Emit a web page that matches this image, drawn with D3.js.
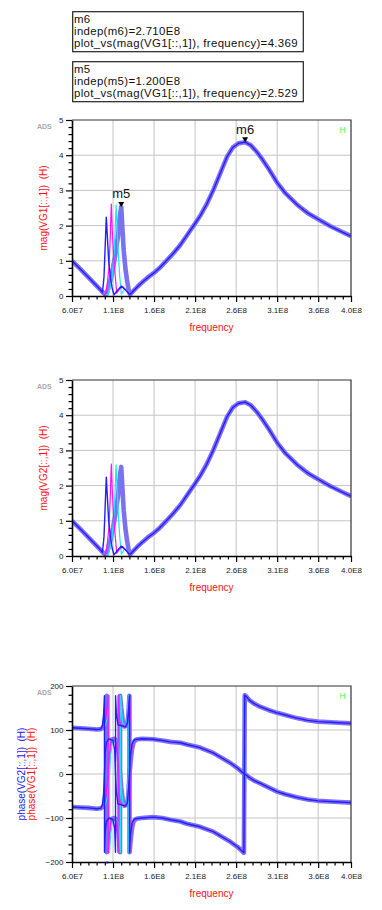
<!DOCTYPE html>
<html>
<head>
<meta charset="utf-8">
<script src="https://cdn.jsdelivr.net/npm/d3@7"></script>
<style>
body { margin: 0; background: #fff; }
svg { display: block; font-family: Arial, "Liberation Sans", sans-serif; }
</style>
</head>
<body>
<div id="chart"></div>
<script>
// frequency is kept in MHz, labels are typed as in ADS
let freqTicks = [60, 110, 160, 210, 260, 310, 360, 400];
let freqTickLabels = ["6.0E7", "1.1E8", "1.6E8", "2.1E8", "2.6E8", "3.1E8", "3.6E8", "4.0E8"];
let magTicks = [0, 1, 2, 3, 4, 5];
let phaseTicks = [-200, -100, 0, 100, 200];

// marker readouts
let markerBoxM6 = ["m6", "indep(m6)=2.710E8", "plot_vs(mag(VG1[::,1]), frequency)=4.369"];
let markerBoxM5 = ["m5", "indep(m5)=1.200E8", "plot_vs(mag(VG1[::,1]), frequency)=2.529"];
let markers = [{name: "m5", f: 120, v: 2.529}, {name: "m6", f: 271, v: 4.369}];

// |V| - shared broad response
let magBaseLeft = [[60, 1.0], [70, 0.77], [80, 0.53], [90, 0.29], [95, 0.17]];
let magBaseRight = [[130.7, 0.05], [133, 0.1], [140, 0.27], [146, 0.4], [152, 0.52], [159, 0.64], [166, 0.78],
    [175, 1.0], [183, 1.2], [192, 1.45], [200, 1.72], [210, 2.06], [216, 2.27], [224, 2.6], [232, 3.0],
    [240, 3.45], [249, 3.96], [256, 4.22], [263, 4.34], [271, 4.37], [278, 4.28], [285, 4.1], [292, 3.88],
    [300, 3.6], [310, 3.22], [320, 2.92], [334, 2.6], [347, 2.36], [360, 2.18], [375, 1.98], [390, 1.81], [400, 1.70]];

// |V| - resonance part of each sweep trace
let magResLav = [[98, 0.09], [101.5, 0.02], [104, 0.2], [107, 0.45], [110, 0.8], [113, 1.2], [116, 1.7],
    [118.5, 2.3], [120, 2.53], [121.5, 1.9], [123, 1.3], [125, 0.8], [127, 0.45], [129, 0.18]];
let magResCyan = [[98, 0.09], [100, 0.04], [103.9, 0.03], [106, 0.2], [109, 0.55], [111, 1.1], [112.5, 1.8],
    [113.7, 2.59], [115, 1.9], [116.5, 1.2], [118, 0.6], [120.1, 0.05], [124, 0.2], [127, 0.14], [129, 0.08]];
let magResMagenta = [[98, 0.08], [100, 0.02], [101.5, 0.1], [103, 0.36], [105, 0.8], [106.5, 1.6], [107.9, 2.61],
    [109, 1.9], [110.5, 1.2], [112, 0.75], [114.5, 0.08], [118, 0.2], [122, 0.27], [126, 0.15], [129, 0.08]];
let magResBlue = [[97, 0.1], [98, 0.3], [99, 0.55], [101.8, 2.24], [104.7, 1.0], [107, 0.5], [109, 0.22],
    [111.2, 0.03], [115, 0.15], [120, 0.28], [125, 0.18], [129, 0.07]];

// phase - shared broad response
let phUpLeft = [[60, 105], [70, 104], [80, 103], [90, 101], [95, 102]];
let phLoLeft = [[60, -75], [70, -76], [80, -77], [90, -79], [95, -78]];
let phMidRight = [[140, 79], [145, 80], [159, 79], [170, 76], [180, 73], [192, 71], [200, 67], [216, 60],
    [232, 48], [253, 25], [262, 13], [270, 0], [272, -2], [276, -8], [282, -15], [289, -21], [300, -31],
    [310, -40], [320, -46], [334, -53], [347, -58], [360, -61], [380, -63], [400, -65]];
let phLoRight = [[140, -101], [145, -100], [159, -98], [170, -100], [180, -104], [192, -108], [200, -113],
    [216, -120], [232, -131], [253, -154], [262, -166], [269.5, -179], [270.5, 179], [272, 177], [276, 168],
    [282, 160], [289, 153], [300, 145], [310, 139], [320, 134], [334, 127], [347, 122], [360, 119], [380, 117], [400, 115]];

// phase - resonance part of each sweep trace (P: VG1 branch, Q: VG2 branch)
let phResPLav = [[98, 106], [100, 115], [101.5, 140], [102.5, 178], [102.6, -178], [104, -150], [106, -115],
    [108, -102], [112, -100], [115, -108], [117, -135], [118.5, -178], [118.6, 178], [120, 150], [122, 118],
    [124, 108], [127, 110], [128.5, 130], [130, 178], [130.1, -178], [131.5, -150], [133, -125], [135, -108], [138, -102]];
let phResQLav = [[98, -74], [100, -65], [101.5, -40], [102.5, -2], [104, 30], [106, 65], [108, 78], [112, 80],
    [115, 72], [117, 45], [118.5, 2], [120, -30], [122, -62], [124, -72], [127, -70], [128.5, -50], [130, -2],
    [131.5, 30], [133, 55], [135, 72], [138, 78]];
let phResPBlue = [[97, 110], [98.5, 135], [99.5, 178], [99.6, -178], [100.5, -130], [102, -108], [105, -100],
    [110, -104], [112, -125], [113, -178], [113.1, 178], [114, 140], [116, 112], [125, 107], [127.5, 115],
    [129, 150], [130, 178], [130.1, -178], [131, -140], [133, -112], [136, -102]];
let phResQBlue = [[97, -70], [98.5, -45], [99.5, -2], [100.5, 50], [102, 72], [105, 80], [110, 76], [112, 55],
    [113, 2], [114, -40], [116, -68], [125, -73], [127.5, -65], [129, -30], [130, -2], [131, 40], [133, 68], [136, 78]];
let phResPMagenta = [[99, 108], [101, 125], [103, 160], [104, 178], [104.1, -178], [105.5, -140], [107, -110],
    [110, -101], [113, -104], [115, -125], [116, -178], [116.1, 178], [117.5, 135], [119, 112], [126, 108],
    [128, 120], [129.5, 160], [130.5, 178], [130.6, -178], [132, -135], [134, -108], [138, -101]];
let phResQMagenta = [[99, -72], [101, -55], [103, -20], [104, -2], [105.5, 40], [107, 70], [110, 79], [113, 76],
    [115, 55], [116, 2], [117.5, -45], [119, -68], [126, -72], [128, -60], [129.5, -20], [130.5, -2], [132, 45],
    [134, 72], [138, 79]];
let phResPCyan = [[100, 108], [103, 125], [105, 165], [105.7, 178], [105.8, -178], [107, -135], [109, -108],
    [113, -101], [116, -108], [118, -140], [119, -178], [119.1, 178], [120.5, 140], [122, 115], [126, 108],
    [127.5, 125], [128.5, 165], [129, 178], [129.1, -178], [130.5, -140], [132.5, -110], [136, -101]];
let phResQCyan = [[100, -72], [103, -55], [105, -15], [105.7, -2], [107, 45], [109, 72], [113, 79], [116, 72],
    [118, 40], [119, 2], [120.5, -40], [122, -65], [126, -72], [127.5, -55], [128.5, -15], [129, -2], [130.5, 40],
    [132.5, 70], [136, 79]];

let colLav = "#7b72f0", colCyan = "#1ee6f5", colMagenta = "#ff10ff", colBlue = "#2020ff";
let red = "#ff1010";

let magSeries = [
    {data: magBaseLeft.concat(magResLav, magBaseRight), color: colLav, width: 4.6},
    {data: magBaseLeft.concat(magResCyan, magBaseRight), color: colCyan, width: 1.2},
    {data: magBaseLeft.concat(magResMagenta, magBaseRight), color: colMagenta, width: 1.2},
    {data: magBaseLeft.concat(magResBlue, magBaseRight), color: colBlue, width: 1.4}
];
let phaseSeries = [
    {data: phUpLeft.concat(phResPLav, phLoRight), color: colLav, width: 4.6},
    {data: phLoLeft.concat(phResQLav, phMidRight), color: colLav, width: 4.6},
    {data: phUpLeft.concat(phResPCyan, phLoRight), color: colCyan, width: 1.2},
    {data: phLoLeft.concat(phResQCyan, phMidRight), color: colCyan, width: 1.2},
    {data: phUpLeft.concat(phResPMagenta, phLoRight), color: colMagenta, width: 1.2},
    {data: phLoLeft.concat(phResQMagenta, phMidRight), color: colMagenta, width: 1.2},
    {data: phUpLeft.concat(phResPBlue, phLoRight), color: colBlue, width: 1.4},
    {data: phLoLeft.concat(phResQBlue, phMidRight), color: colBlue, width: 1.4}
];

let panels = [
    {top: 120, yDomain: [0, 5], yTicks: magTicks, minorStep: 0.2, series: magSeries, showH: true, showMarkers: true,
        titles: [{text: "mag(VG1[::,1])  (H)", color: red, x: 47}]},
    {top: 380, yDomain: [0, 5], yTicks: magTicks, minorStep: 0.2, series: magSeries, showH: false, showMarkers: false,
        titles: [{text: "mag(VG2[::,1])  (H)", color: red, x: 47}]},
    {top: 686, yDomain: [-200, 200], yTicks: phaseTicks, minorStep: 20, series: phaseSeries, showH: true, showMarkers: false,
        titles: [{text: "phase(VG2[::,1])  (H)", color: colBlue, x: 25}, {text: "phase(VG1[::,1])  (H)", color: red, x: 35}]}
];

let svg = d3.select("#chart").append("svg")
    .attr("width", 382)
    .attr("height", 910);

let plotLeft = 72, plotRight = 351, plotHeight = 176;

let x = d3.scaleLinear().domain([60, 400]).range([plotLeft, plotRight]);

// marker readout boxes (tight line pitch as in ADS)
[{top: 11.7, lines: markerBoxM6}, {top: 61.7, lines: markerBoxM5}].forEach(function(b) {
    svg.append("rect")
        .attr("x", 72.7).attr("y", b.top)
        .attr("width", 230.6).attr("height", 40)
        .attr("fill", "#fff").attr("stroke", "#222").attr("stroke-width", 1.2);
    let block = svg.append("text")
        .attr("font-size", "11.4px").attr("letter-spacing", "0.35px").attr("fill", "#111");
    b.lines.forEach(function(t, i) {
        block.append("tspan")
            .attr("x", 74).attr("y", b.top + 11.6 + i * 11.6)
            .text(t);
    });
});

panels.forEach(function(p, idx) {
    let top = p.top, bottom = top + plotHeight;
    let y = d3.scaleLinear().domain(p.yDomain).range([bottom, top]);
    let g = svg.append("g");

    // grid
    g.selectAll(".vgrid").data(freqTicks.slice(1, -1)).enter().append("line")
        .attr("x1", d => x(d)).attr("x2", d => x(d))
        .attr("y1", top).attr("y2", bottom)
        .attr("stroke", "#c4c4c4").attr("stroke-width", 1);
    g.selectAll(".hgrid").data(p.yTicks.slice(1, -1)).enter().append("line")
        .attr("x1", plotLeft).attr("x2", plotRight)
        .attr("y1", d => y(d)).attr("y2", d => y(d))
        .attr("stroke", "#c4c4c4").attr("stroke-width", 1);

    svg.append("clipPath").attr("id", "clip" + idx)
        .append("rect")
        .attr("x", plotLeft).attr("y", top)
        .attr("width", plotRight - plotLeft).attr("height", plotHeight);

    let line = d3.line().x(d => x(d[0])).y(d => y(d[1]));
    let traces = g.append("g").attr("clip-path", "url(#clip" + idx + ")");
    p.series.forEach(function(s) {
        traces.append("path")
            .attr("d", line(s.data))
            .attr("fill", "none")
            .attr("stroke", s.color)
            .attr("stroke-width", s.width)
            .attr("stroke-linejoin", "round");
    });

    // top / right frame
    g.append("path")
        .attr("d", "M" + plotLeft + "," + top + "H" + plotRight + "V" + bottom)
        .attr("fill", "none").attr("stroke", "#333").attr("stroke-width", 1.2);

    // x axis with minor ticks
    let minorX = d3.range(70, 400, 10).filter(d => freqTicks.indexOf(d) < 0);
    g.append("g")
        .attr("transform", "translate(0," + bottom + ")")
        .call(d3.axisBottom(x).tickValues(minorX).tickSize(3.5).tickFormat(""))
        .call(a => a.select(".domain").remove())
        .selectAll("line").attr("stroke", "#000").attr("stroke-width", 1.2);
    let xAxis = g.append("g")
        .attr("transform", "translate(0," + bottom + ")")
        .call(d3.axisBottom(x).tickValues(freqTicks).tickSize(6).tickSizeOuter(0).tickPadding(5)
            .tickFormat((d, i) => freqTickLabels[i]));
    xAxis.select(".domain").attr("stroke", "#000").attr("stroke-width", 1.6);
    xAxis.selectAll("line").attr("stroke", "#000").attr("stroke-width", 1.2);
    xAxis.selectAll("text").attr("font-size", "8px").attr("font-family", "Arial, 'Liberation Sans', sans-serif").attr("fill", "#222");

    // y axis with minor ticks
    let minorY = d3.range(p.yDomain[0], p.yDomain[1], p.minorStep)
        .map(d => Math.round(d * 100) / 100)
        .filter(d => p.yTicks.indexOf(d) < 0);
    g.append("g")
        .attr("transform", "translate(" + plotLeft + ",0)")
        .call(d3.axisLeft(y).tickValues(minorY).tickSize(3.5).tickFormat(""))
        .call(a => a.select(".domain").remove())
        .selectAll("line").attr("stroke", "#000").attr("stroke-width", 1.2);
    let yAxis = g.append("g")
        .attr("transform", "translate(" + plotLeft + ",0)")
        .call(d3.axisLeft(y).tickValues(p.yTicks).tickSize(6).tickSizeOuter(0).tickPadding(2.5).tickFormat(d3.format("d")));
    yAxis.select(".domain").attr("stroke", "#000").attr("stroke-width", 1.6);
    yAxis.selectAll("line").attr("stroke", "#000").attr("stroke-width", 1.2);
    yAxis.selectAll("text").attr("font-size", "8px").attr("font-family", "Arial, 'Liberation Sans', sans-serif").attr("fill", "#222");

    // titles
    g.append("text")
        .attr("x", (plotLeft + plotRight) / 2).attr("y", bottom + 35)
        .attr("text-anchor", "middle")
        .attr("font-size", "10px").attr("fill", red)
        .text("frequency");
    p.titles.forEach(function(t) {
        g.append("text")
            .attr("transform", "translate(" + t.x + "," + (top + bottom) / 2 + ") rotate(-90)")
            .attr("text-anchor", "middle")
            .attr("font-size", "10px").attr("fill", t.color)
            .style("white-space", "pre")
            .text(t.text);
    });

    g.append("text")
        .attr("x", 37).attr("y", top + 8.5)
        .attr("font-size", "7px").attr("font-weight", "bold").attr("fill", "#a8a8a8")
        .text("ADS");

    if (p.showH) {
        g.append("text")
            .attr("x", 339.5).attr("y", top + 13)
            .attr("font-size", "8.5px").attr("fill", "#3cff3c")
            .text("H");
    }

    if (p.showMarkers) {
        markers.forEach(function(m) {
            let mx = x(m.f), my = y(m.v);
            g.append("path")
                .attr("d", "M" + (mx - 3) + "," + (my - 5) + "H" + (mx + 3) + "L" + mx + "," + my + "Z")
                .attr("fill", "#000");
            g.append("text")
                .attr("x", mx).attr("y", my - 8.5)
                .attr("text-anchor", "middle")
                .attr("font-size", "13px").attr("fill", "#111")
                .text(m.name);
        });
    }
});

// small sweep marker on the phase axis
svg.append("text")
    .attr("x", 106.7).attr("y", 864)
    .attr("text-anchor", "middle")
    .attr("font-size", "6px").attr("fill", colBlue)
    .text("x");
</script>
</body>
</html>
